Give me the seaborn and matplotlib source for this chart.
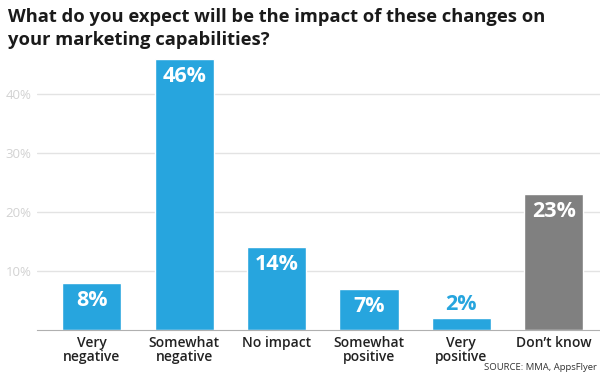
import matplotlib.pyplot as plt
import pandas as pd
import seaborn as sns

categories = ["Very\nnegative", "Somewhat\nnegative", "No impact", "Somewhat\npositive", "Very\npositive", "Don\u2019t know"]
values = [8, 46, 14, 7, 2, 23]
colors = ["#27a5de", "#27a5de", "#27a5de", "#27a5de", "#27a5de", "#808080"]
yticks = [10, 20, 30, 40]

df = pd.DataFrame({"category": categories, "value": values})

sns.set_style("white")
plt.rcParams['font.family'] = ['Open Sans', 'DejaVu Sans']

fig = plt.figure(figsize=(6, 3.75), dpi=100)
ax = fig.add_axes([0.062, 0.12, 0.938, 0.747])

sns.barplot(data=df, x="category", y="value", hue="category", palette=colors,
            width=0.64, saturation=1, legend=False, ax=ax)

# labels: inside for tall bars, above for the tiny one
for i, v in enumerate(values):
    if v >= 5:
        ax.annotate(f"{v}%", (i, v), xytext=(0, -5), textcoords="offset points",
                    ha="center", va="top", color="white", fontsize=15.5, fontweight="bold")
    else:
        ax.annotate(f"{v}%", (i, v), xytext=(0, 2), textcoords="offset points",
                    ha="center", va="bottom", color=colors[i], fontsize=15.5, fontweight="bold")

ax.set_ylim(0, 47.5)
ax.set_xlim(-0.59, 5.5)
ax.set_yticks(yticks)
ax.set_yticklabels([f"{t}%" for t in yticks], color="#d2d2d2", fontsize=9.5)
ax.yaxis.grid(True, color="#e3e3e3", linewidth=1)
ax.set_axisbelow(True)
ax.tick_params(axis="y", length=0, pad=4)
ax.tick_params(axis="x", length=0, pad=4)
for lbl in ax.get_xticklabels():
    lbl.set_fontsize(10)
    lbl.set_fontweight("semibold")
    lbl.set_color("#222222")
    lbl.set_linespacing(1.0)
for s in ["top", "right", "left"]:
    ax.spines[s].set_visible(False)
ax.spines["bottom"].set_color("#b0b0b0")
ax.set_xlabel("")
ax.set_ylabel("")

fig.text(0.013, 0.978, "What do you expect will be the impact of these changes on\nyour marketing capabilities?",
         ha="left", va="top", fontsize=13.2, fontweight="bold", color="#1a1a1a", linespacing=1.35)
fig.text(0.995, 0.008, "SOURCE: MMA, AppsFlyer", ha="right", va="bottom", fontsize=6.8, color="#333333")

plt.savefig("out.png", dpi=100)
